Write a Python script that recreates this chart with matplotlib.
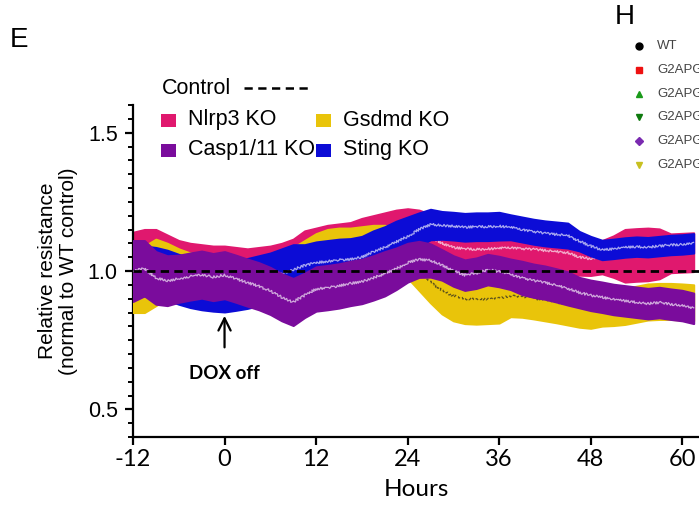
import numpy as np
import matplotlib
matplotlib.use("Agg")
import matplotlib.pyplot as plt
from matplotlib.lines import Line2D
from matplotlib.patches import Rectangle

# ---------------- data ----------------
hours = [-12, -10.5, -9, -7.5, -6, -4.5, -3, -1.5, 0, 1.5, 3, 4.5, 6, 7.5, 9, 10.5,
         12, 13.5, 15, 16.5, 18, 19.5, 21, 22.5, 24, 25.5, 27, 28.5, 30, 31.5, 33,
         34.5, 36, 37.5, 39, 40.5, 42, 43.5, 45, 46.5, 48, 49.5, 51, 52.5, 54, 55.5,
         57, 58.5, 60, 61.5]

nlrp3_mean = [1.00, 1.06, 1.06, 1.04, 1.02, 1.01, 1.005, 1.00, 1.00, 0.995, 0.99,
              0.995, 1.00, 1.015, 1.03, 1.06, 1.075, 1.085, 1.09, 1.095, 1.11, 1.12,
              1.13, 1.14, 1.145, 1.14, 1.125, 1.10, 1.085, 1.08, 1.078, 1.08, 1.082,
              1.085, 1.08, 1.078, 1.074, 1.07, 1.066, 1.05, 1.044, 1.05, 1.052, 1.055,
              1.058, 1.06, 1.062, 1.064, 1.066, 1.068]
nlrp3_err = [0.14, 0.09, 0.09, 0.09, 0.09, 0.09, 0.09, 0.09, 0.09, 0.09, 0.09, 0.09,
             0.09, 0.085, 0.085, 0.085, 0.08, 0.08, 0.08, 0.08, 0.08, 0.08, 0.08, 0.08,
             0.08, 0.08, 0.08, 0.08, 0.08, 0.08, 0.08, 0.08, 0.08, 0.08, 0.08, 0.08,
             0.08, 0.08, 0.08, 0.065, 0.06, 0.06, 0.075, 0.095, 0.095, 0.095, 0.09,
             0.07, 0.07, 0.07]

casp_mean = [1.00, 1.01, 0.975, 0.965, 0.972, 0.98, 0.987, 0.978, 0.985, 0.972,
             0.958, 0.945, 0.928, 0.905, 0.888, 0.912, 0.935, 0.94, 0.946, 0.955,
             0.962, 0.975, 0.99, 1.008, 1.03, 1.042, 1.038, 1.022, 1.00, 0.985, 0.992,
             1.005, 0.998, 0.988, 0.975, 0.965, 0.958, 0.948, 0.937, 0.922, 0.912,
             0.905, 0.897, 0.892, 0.887, 0.882, 0.886, 0.88, 0.875, 0.865]
casp_err = [0.11, 0.10, 0.095, 0.09, 0.085, 0.085, 0.085, 0.085, 0.085, 0.085, 0.085,
            0.085, 0.085, 0.085, 0.085, 0.08, 0.08, 0.08, 0.08, 0.08, 0.08, 0.08, 0.08,
            0.075, 0.07, 0.065, 0.06, 0.055, 0.055, 0.055, 0.055, 0.055, 0.055, 0.055,
            0.06, 0.06, 0.06, 0.06, 0.06, 0.055, 0.055, 0.055, 0.055, 0.055, 0.055,
            0.055, 0.055, 0.055, 0.055, 0.055]

gsdmd_mean = [0.95, 0.97, 0.995, 1.00, 0.99, 0.975, 0.965, 0.96, 0.958, 0.955, 0.958,
              0.965, 0.975, 0.99, 1.01, 1.035, 1.06, 1.075, 1.08, 1.08, 1.085, 1.09,
              1.09, 1.08, 1.05, 1.00, 0.96, 0.93, 0.91, 0.90, 0.898, 0.90, 0.902, 0.91,
              0.908, 0.902, 0.895, 0.888, 0.88, 0.872, 0.868, 0.866, 0.868, 0.872, 0.88,
              0.888, 0.89, 0.89, 0.888, 0.885]
gsdmd_err = [0.10, 0.12, 0.12, 0.10, 0.09, 0.09, 0.09, 0.09, 0.085, 0.08, 0.08, 0.08,
             0.08, 0.075, 0.075, 0.075, 0.075, 0.075, 0.075, 0.075, 0.075, 0.075, 0.075,
             0.075, 0.075, 0.07, 0.075, 0.085, 0.09, 0.09, 0.09, 0.09, 0.09, 0.075,
             0.075, 0.075, 0.075, 0.075, 0.075, 0.075, 0.075, 0.065, 0.065, 0.065,
             0.065, 0.065, 0.065, 0.065, 0.065, 0.065]

sting_mean = [1.00, 1.00, 0.995, 0.985, 0.97, 0.958, 0.95, 0.945, 0.942, 0.948, 0.955,
              0.965, 0.975, 0.99, 1.005, 1.02, 1.03, 1.035, 1.04, 1.042, 1.05, 1.07,
              1.085, 1.105, 1.125, 1.15, 1.168, 1.165, 1.162, 1.158, 1.16, 1.16, 1.162,
              1.158, 1.15, 1.142, 1.136, 1.132, 1.128, 1.108, 1.09, 1.076, 1.08, 1.085,
              1.088, 1.086, 1.09, 1.094, 1.096, 1.10]
sting_err = [0.09, 0.09, 0.09, 0.09, 0.09, 0.09, 0.09, 0.09, 0.09, 0.09, 0.09, 0.09,
             0.09, 0.09, 0.09, 0.075, 0.075, 0.075, 0.075, 0.075, 0.075, 0.075, 0.075,
             0.075, 0.07, 0.06, 0.055, 0.05, 0.05, 0.05, 0.05, 0.05, 0.05, 0.045, 0.045,
             0.045, 0.045, 0.045, 0.045, 0.035, 0.035, 0.035, 0.035, 0.035, 0.035,
             0.035, 0.035, 0.035, 0.035, 0.035]

control_level = 1.0
series_names = ["Nlrp3 KO", "Casp1/11 KO", "Gsdmd KO", "Sting KO"]
x_ticks = [-12, 0, 12, 24, 36, 48, 60]
y_ticks = [0.5, 1.0, 1.5]
h_labels = ["WT", "G2APGD", "G2APGD", "G2APGD", "G2APGD", "G2APGD"]

# ---------------- styling ----------------
C_PINK = "#E0186E"
C_PURPLE = "#7A0C9C"
C_YELLOW = "#E9C40A"
C_BLUE = "#0C0CD6"

W, H = 699, 517
fig = plt.figure(figsize=(W / 100, H / 100), dpi=100)
ax = fig.add_axes([133 / W, 1 - 437 / H, (W - 133) / W, (437 - 105) / H])

t = np.array(hours)
layers = [
    (nlrp3_mean, nlrp3_err, C_PINK, "white"),
    (gsdmd_mean, gsdmd_err, C_YELLOW, "#222222"),
    (sting_mean, sting_err, C_BLUE, "white"),
    (casp_mean, casp_err, C_PURPLE, "white"),
]
for i, (m, e, c, lc) in enumerate(layers):
    m = np.array(m)
    e = np.array(e)
    band = ax.fill_between(t, m - e, m + e, color=c, lw=1.5, edgecolor=c,
                           zorder=2 + i)
    band.set_sketch_params(scale=2.0, length=4, randomness=2)
    if lc == "white":
        ln, = ax.plot(t, m, color=lc, lw=0.9, alpha=0.65, zorder=2 + i + 0.5)
    else:
        ln, = ax.plot(t, m, color=lc, lw=0.9, alpha=0.7, dashes=(2.5, 2),
                      zorder=2 + i + 0.5)
    ln.set_sketch_params(scale=1.2, length=3, randomness=2)

ax.axhline(control_level, color="black", lw=2.0, dashes=(3, 1.9), zorder=10)

ax.set_xlim(-12, 62.2)
ax.set_ylim(0.4, 1.6)
ax.spines["top"].set_visible(False)
ax.spines["right"].set_visible(False)
ax.spines["left"].set_linewidth(1.6)
ax.spines["bottom"].set_linewidth(1.6)

ax.set_xticks(x_ticks)
ax.set_xticklabels([str(v) for v in x_ticks], fontfamily="Lato", fontsize=17)
ax.set_yticks(y_ticks)
ax.set_yticklabels([f"{v:.1f}" for v in y_ticks], fontfamily="Liberation Sans",
                   fontsize=15.5)
ax.set_yticks(np.arange(0.4, 1.61, 0.05), minor=True)
ax.tick_params(axis="both", which="major", direction="out", length=6, width=1.6)
ax.tick_params(axis="y", which="major", pad=5)
ax.tick_params(axis="x", which="major", pad=3)
ax.tick_params(axis="y", which="minor", direction="out", length=3.5, width=1.4)

ax.set_xlabel("Hours", fontfamily="Lato", fontsize=17.5, labelpad=6)
ax.set_ylabel("Relative resistance\n(normal to WT control)",
              fontfamily="Liberation Sans", fontsize=15, labelpad=7, linespacing=1.15)

# DOX off arrow
ax.annotate("", xy=(0, 0.848), xytext=(0, 0.714),
            arrowprops=dict(arrowstyle="->", lw=1.6, color="black",
                            mutation_scale=22))
ax.text(0, 0.63, "DOX off", ha="center", va="center", fontfamily="Lato",
        fontweight="bold", fontsize=13.5)

# legend (manual)
def fx(x):
    return x / W

def fy(y):
    return 1 - y / H

fig.text(fx(162), fy(88), "Control", fontfamily="Liberation Sans", fontsize=15.5,
         ha="left", va="center")
fig.add_artist(Line2D([fx(244), fx(308)], [fy(88), fy(88)], color="black", lw=1.8,
                      dashes=(3.3, 2.2)))
leg_colors = [C_PINK, C_PURPLE, C_YELLOW, C_BLUE]
leg_pos = [(168, 120), (168, 150), (323, 120), (323, 150)]
for name, c, (px, py) in zip(series_names, leg_colors, leg_pos):
    fig.add_artist(Rectangle((fx(px - 7.5), fy(py + 6.5)), 15 / W, 13 / H,
                             facecolor=c, edgecolor="none"))
    fig.text(fx(px + 20), fy(py), name, fontfamily="Liberation Sans", fontsize=15.5,
             ha="left", va="center")

# panel letters
fig.text(fx(10), fy(40), "E", fontfamily="Liberation Sans", fontsize=20,
         ha="left", va="center")
fig.text(fx(615), fy(17), "H", fontfamily="Liberation Sans", fontsize=20,
         ha="left", va="center")

# partial legend of panel H (cut off by the right edge, as in the source)
h_markers = [("o", "black", 5), ("s", "#EE1111", 5), ("^", "#1A9A1A", 5),
             ("v", "#0E7A0E", 5), ("D", "#7A2AB0", 4), ("v", "#C8C020", 5)]
h_rows = [46, 70, 94, 117, 141, 165]
for lab, (mk, mc, ms), ry in zip(h_labels, h_markers, h_rows):
    fig.add_artist(Line2D([fx(639)], [fy(ry)], marker=mk, color=mc, markersize=ms,
                          linestyle="none"))
    fig.text(fx(657), fy(ry), lab, fontfamily="Liberation Sans", fontsize=9.5,
             color="#444444", ha="left", va="center")

fig.savefig("out.png", dpi=100)
